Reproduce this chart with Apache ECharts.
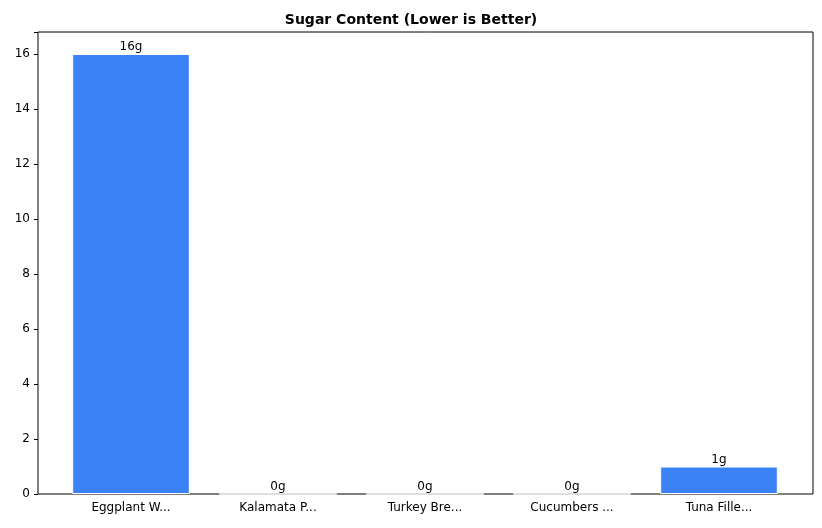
<!DOCTYPE html><html><head><meta charset="utf-8">
<script src="https://cdn.jsdelivr.net/npm/echarts@6/dist/echarts.min.js"></script>
<style>html,body{margin:0;background:#fff}#c{width:822px;height:528px}</style></head><body>
<div id="c"></div><script>
const categories=["Eggplant W...","Kalamata P...","Turkey Bre...","Cucumbers ...","Tuna Fille..."];
const sugar=[16,0,0,0,1];
const yTicks=[0,2,4,6,8,10,12,14,16];
const F='DejaVu Sans';
const c=echarts.init(document.getElementById('c'));
c.setOption({
 animation:false,
 title:{text:'Sugar Content (Lower is Better)',left:'center',top:8,textStyle:{fontFamily:F,fontSize:14,fontWeight:'bold',color:'#000'}},
 grid:[{left:57.5,right:29.5,top:32,bottom:34},{left:38,right:9,top:32,bottom:34,show:true,borderColor:'#000',borderWidth:1,backgroundColor:'transparent'}],
 xAxis:[{type:'category',data:categories,gridIndex:0,axisLine:{show:false},axisTick:{alignWithLabel:true,length:4,lineStyle:{color:'#000'}},
   axisLabel:{fontFamily:F,fontSize:12,color:'#000',margin:8,interval:0}},
  {type:'value',gridIndex:1,show:false}],
 yAxis:[{type:'value',gridIndex:0,min:0,max:16.8,interval:2,offset:19.5,splitLine:{show:false},axisLine:{show:false},
   axisTick:{show:true,length:4,lineStyle:{color:'#000'}},
   axisLabel:{fontFamily:F,fontSize:12,color:'#000',formatter:v=>yTicks.includes(v)?String(v):''}},
  {type:'value',gridIndex:1,show:false}],
 series:[{type:'bar',data:sugar,barWidth:'80%',itemStyle:{color:'#3b82f6',borderColor:'#fff',borderWidth:1},
  label:{show:true,position:'top',distance:1,formatter:p=>p.value+'g',fontFamily:F,fontSize:12,color:'#000'}}]
});
</script></body></html>
